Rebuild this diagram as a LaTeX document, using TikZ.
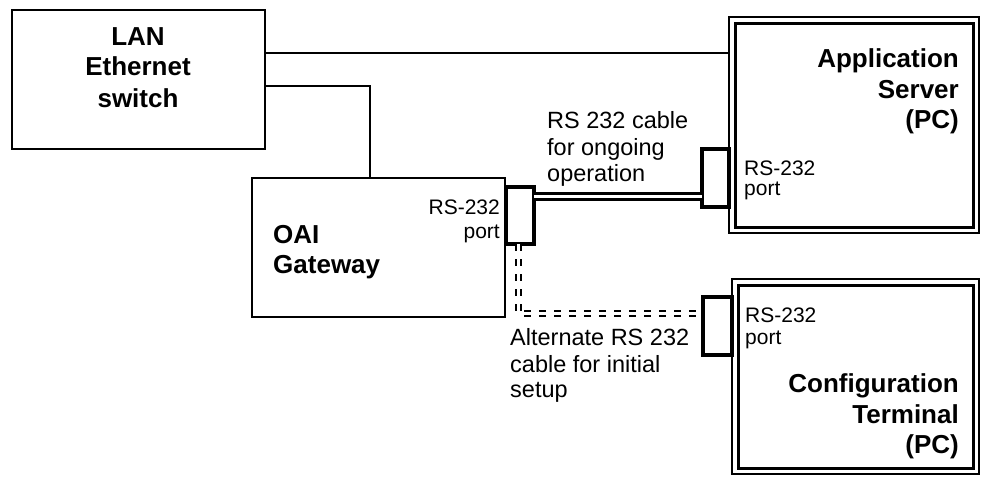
\documentclass[tikz,border=0pt]{standalone}
\usepackage{fontspec}
\setmainfont{Liberation Sans}
\begin{document}
\begin{tikzpicture}[x=1pt,y=-1pt,
  box/.style={draw,line width=1.4pt,inner sep=0pt,outer sep=0pt,anchor=north west},
  pcbox/.style={draw,line width=2pt,inner sep=0pt,outer sep=0pt,anchor=north west},
  portbox/.style={draw,line width=3.2pt,inner sep=0pt,outer sep=0pt,anchor=north west},
  wire/.style={line width=1.4pt},
  cable/.style={double,line width=3pt,double distance=2.2pt},
  dcable/.style={double,line width=2.7pt,double distance=2.4pt,dash pattern=on 7pt off 8pt},
  title/.style={inner sep=0pt,font=\fontsize{26}{31}\selectfont\bfseries},
  lbl/.style={inner sep=0pt,font=\fontsize{23.5}{27}\selectfont},
  plbl/.style={inner sep=0pt,font=\fontsize{21}{24}\selectfont}]
\useasboundingbox (0,0) rectangle (986,477);

% boxes
\node[box,minimum width=253pt,minimum height=139pt] (lan) at (12,10) {};
\node[box,minimum width=253pt,minimum height=139pt] (gw) at (252,178) {};
\node[pcbox,minimum width=250pt,minimum height=216pt] (app) at (729,17) {};
\node[pcbox,minimum width=247pt,minimum height=195pt] (cfg) at (732,279) {};
\draw[line width=3pt] ([xshift=6pt,yshift=-6pt]app.north west) rectangle ([xshift=-6pt,yshift=6pt]app.south east);
\draw[line width=3pt] ([xshift=6pt,yshift=-6pt]cfg.north west) rectangle ([xshift=-6pt,yshift=6pt]cfg.south east);

% ports
\node[portbox,minimum width=28pt,minimum height=57pt] (gwport) at (506,187) {};
\node[portbox,minimum width=27pt,minimum height=58pt] (appport) at (702,149) {};
\node[portbox,minimum width=29pt,minimum height=58pt] (cfgport) at (703,297) {};

% helper coordinates
\coordinate (lanapp) at (0,53);
\coordinate (gwtap) at (370,86);
\coordinate (cabley) at (0,196.5);
\coordinate (dcorner) at (518.5,313.5);

% connectors
\draw[wire] (lan.east |- lanapp) -- (app.west |- lanapp);
\draw[wire] (lan.east |- gwtap) -| (gw.north -| gwtap);
\draw[cable] (gwport.east |- cabley) -- (appport.west |- cabley);
\draw[dcable] (gwport.south -| dcorner) -- (dcorner) -- (cfgport.west |- dcorner);

% titles
\node[title,anchor=base] (t1) at (138,45) {LAN};
\node[title,anchor=base] (t2) at (138,75) {Ethernet};
\node[title,anchor=base] (t3) at (138,107) {switch};
\node[title,anchor=base east] (t4) at (959,67) {Application};
\node[title,anchor=base east] (t5) at (959,98) {Server};
\node[title,anchor=base east] (t6) at (959,128) {(PC)};
\node[title,anchor=base east] (t7) at (959,392) {Configuration};
\node[title,anchor=base east] (t8) at (959,423) {Terminal};
\node[title,anchor=base east] (t9) at (959,453) {(PC)};
\node[title,anchor=base west] (t10) at (273,243) {OAI};
\node[title,anchor=base west] (t11) at (273,273) {Gateway};

% port labels
\node[plbl,anchor=base east] (p1) at (500,214) {RS-232};
\node[plbl,anchor=base east] (p2) at (500,238) {port};
\node[plbl,anchor=base west] (p3) at (744,175) {RS-232};
\node[plbl,anchor=base west] (p4) at (744,195) {port};
\node[plbl,anchor=base west] (p5) at (745,322) {RS-232};
\node[plbl,anchor=base west] (p6) at (745,344) {port};

% cable labels
\node[lbl,anchor=base west] (c1) at (547,128) {RS 232 cable};
\node[lbl,anchor=base west] (c2) at (547,155) {for ongoing};
\node[lbl,anchor=base west] (c3) at (547,181) {operation};
\node[lbl,anchor=base west] (c4) at (510,345) {Alternate RS 232};
\node[lbl,anchor=base west] (c5) at (510,372) {cable for initial};
\node[lbl,anchor=base west] (c6) at (510,397) {setup};
\end{tikzpicture}
\end{document}
